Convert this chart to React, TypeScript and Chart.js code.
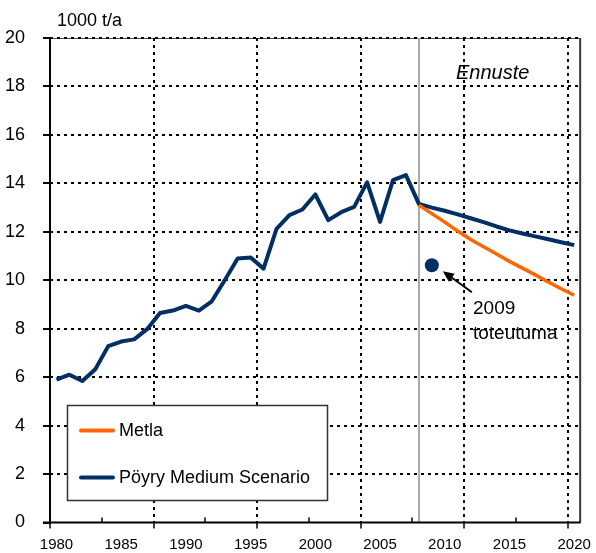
import React, { useEffect, useRef } from 'react';
import { Chart, registerables } from 'chart.js';

Chart.register(...registerables);

// ---- data ----
const years = [
  1980, 1981, 1982, 1983, 1984, 1985, 1986, 1987, 1988, 1989,
  1990, 1991, 1992, 1993, 1994, 1995, 1996, 1997, 1998, 1999,
  2000, 2001, 2002, 2003, 2004, 2005, 2006, 2007, 2008, 2009,
  2010, 2011, 2012, 2013, 2014, 2015, 2016, 2017, 2018, 2019, 2020,
];
const poyryValues = [
  5.9, 6.1, 5.84, 6.33, 7.28, 7.47, 7.56, 7.98, 8.65, 8.75,
  8.94, 8.75, 9.13, 10.0, 10.9, 10.94, 10.48, 12.12, 12.69, 12.92,
  13.54, 12.48, 12.81, 13.03, 14.04, 12.41, 14.13, 14.34, 13.15, 13.0,
  12.87, 12.72, 12.56, 12.4, 12.22, 12.06, 11.93, 11.81, 11.69, 11.57, 11.45,
];
const metlaYears = [2008, 2009, 2010, 2011, 2012, 2013, 2014, 2015, 2016, 2017, 2018, 2019, 2020];
const metlaValues = [13.1, 12.75, 12.4, 12.03, 11.68, 11.38, 11.08, 10.78, 10.5, 10.22, 9.93, 9.65, 9.38];
const actualYears = [2009];
const actualValues = [10.62];
const forecastStartYear = 2008;

const xLabelYears = [1980, 1985, 1990, 1995, 2000, 2005, 2010, 2015, 2020];
const xGridYears = [1987.5, 1995.5, 2003.5, 2011.5, 2019.5];
const xMajorTickYears = [1979.5, 1987.5, 1995.5, 2003.5, 2011.5, 2019.5];
const xMinorTickYears = [1983.5, 1991.5, 1999.5, 2007.5, 2015.5];
const yTickValues = [0, 2, 4, 6, 8, 10, 12, 14, 16, 18, 20];

const seriesNames = ['Metla', 'Pöyry Medium Scenario'];
const unitLabel = '1000 t/a';
const forecastLabel = 'Ennuste';
const actualLabelLines = ['2009', 'toteutuma'];

const NAVY = '#002F63';
const ORANGE = '#FF6600';
const FONT = '"Liberation Sans", Arial, Helvetica, sans-serif';

const decorPlugin = {
  id: 'decor',
  beforeDatasetsDraw(chart: any) {
    const { ctx, chartArea: a, scales } = chart;
    const x = scales.x;
    const y = scales.y;
    ctx.save();
    // top border (thin)
    ctx.strokeStyle = '#555';
    ctx.lineWidth = 1;
    ctx.beginPath();
    ctx.moveTo(a.left, Math.round(a.top) + 0.5);
    ctx.lineTo(a.right, Math.round(a.top) + 0.5);
    ctx.stroke();
    // dotted grid
    ctx.strokeStyle = '#000';
    ctx.lineWidth = 2;
    ctx.setLineDash([3, 4]);
    yTickValues.forEach((v) => {
      if (v === 0) return;
      const py = Math.round(y.getPixelForValue(v));
      ctx.beginPath();
      ctx.moveTo(a.left, py);
      ctx.lineTo(a.right, py);
      ctx.stroke();
    });
    xGridYears.forEach((v) => {
      const px = Math.round(x.getPixelForValue(v));
      ctx.beginPath();
      ctx.moveTo(px, a.top);
      ctx.lineTo(px, a.bottom);
      ctx.stroke();
    });
    ctx.setLineDash([]);
    // forecast separator
    const fx = Math.round(x.getPixelForValue(forecastStartYear));
    ctx.strokeStyle = '#ABABAB';
    ctx.lineWidth = 2;
    ctx.beginPath();
    ctx.moveTo(fx, a.top);
    ctx.lineTo(fx, a.bottom);
    ctx.stroke();
    ctx.restore();
  },
  afterDatasetsDraw(chart: any) {
    const { ctx, chartArea: a, scales } = chart;
    const x = scales.x;
    const y = scales.y;
    ctx.save();
    // right border
    ctx.strokeStyle = '#3A3A3A';
    ctx.lineWidth = 2;
    ctx.beginPath();
    ctx.moveTo(a.right - 0.5, a.top);
    ctx.lineTo(a.right - 0.5, a.bottom);
    ctx.stroke();
    // axes
    ctx.strokeStyle = '#000';
    ctx.lineWidth = 2;
    ctx.beginPath();
    ctx.moveTo(a.left, a.top);
    ctx.lineTo(a.left, a.bottom + 1);
    ctx.stroke();
    ctx.beginPath();
    ctx.moveTo(a.left - 7, a.bottom);
    ctx.lineTo(a.right, a.bottom);
    ctx.stroke();
    // y ticks
    yTickValues.forEach((v) => {
      const py = Math.round(y.getPixelForValue(v));
      ctx.beginPath();
      ctx.moveTo(a.left - 7, py);
      ctx.lineTo(a.left, py);
      ctx.stroke();
    });
    // x ticks
    ctx.lineWidth = 1.5;
    xMajorTickYears.forEach((v) => {
      const px = Math.round(x.getPixelForValue(v));
      ctx.beginPath();
      ctx.moveTo(px, a.bottom);
      ctx.lineTo(px, a.bottom + 6);
      ctx.stroke();
    });
    xMinorTickYears.forEach((v) => {
      const px = Math.round(x.getPixelForValue(v));
      ctx.beginPath();
      ctx.moveTo(px, a.bottom);
      ctx.lineTo(px, a.bottom - 5);
      ctx.stroke();
    });

    // texts
    ctx.fillStyle = '#000';
    ctx.textBaseline = 'alphabetic';
    ctx.textAlign = 'left';
    ctx.font = `18px ${FONT}`;
    ctx.fillText(unitLabel, 57, 26);
    ctx.font = `italic 20px ${FONT}`;
    ctx.fillText(forecastLabel, 456, 79);

    // annotation for 2009
    const ptX = x.getPixelForValue(actualYears[0]);
    const ptY = y.getPixelForValue(actualValues[0]);
    const sx = ptX + 40;
    const sy = ptY + 27;
    const tx = ptX + 11;
    const ty = ptY + 6;
    ctx.strokeStyle = '#000';
    ctx.lineWidth = 2;
    ctx.beginPath();
    ctx.moveTo(sx, sy);
    ctx.lineTo(tx + 5, ty + 3.5);
    ctx.stroke();
    const ang = Math.atan2(ty - sy, tx - sx);
    ctx.beginPath();
    ctx.moveTo(tx, ty);
    ctx.lineTo(tx - 11 * Math.cos(ang) + 5 * Math.sin(ang), ty - 11 * Math.sin(ang) - 5 * Math.cos(ang));
    ctx.lineTo(tx - 11 * Math.cos(ang) - 5 * Math.sin(ang), ty - 11 * Math.sin(ang) + 5 * Math.cos(ang));
    ctx.closePath();
    ctx.fillStyle = '#000';
    ctx.fill();
    ctx.font = `19px ${FONT}`;
    ctx.fillText(actualLabelLines[0], 473, 314);
    ctx.fillText(actualLabelLines[1], 473, 339);

    // legend
    const lx = 67, ly = 405, lw = 260, lh = 95;
    ctx.fillStyle = '#fff';
    ctx.fillRect(lx, ly, lw, lh);
    ctx.strokeStyle = '#333';
    ctx.lineWidth = 1.5;
    ctx.strokeRect(lx + 0.5, ly + 0.5, lw, lh);
    const ds = chart.data.datasets;
    const rows = [
      { color: ds[0].borderColor, text: ds[0].label, yy: 430.5 },
      { color: ds[1].borderColor, text: ds[1].label, yy: 477.5 },
    ];
    rows.forEach((r) => {
      ctx.strokeStyle = r.color;
      ctx.lineWidth = 4;
      ctx.lineCap = 'round';
      ctx.beginPath();
      ctx.moveTo(81, r.yy);
      ctx.lineTo(113, r.yy);
      ctx.stroke();
      ctx.fillStyle = '#000';
      ctx.font = `18px ${FONT}`;
      ctx.textBaseline = 'middle';
      ctx.fillText(r.text, 119, r.yy + 1);
    });
    ctx.restore();
  },
};

export default function App() {
  const ref = useRef<HTMLCanvasElement | null>(null);
  useEffect(() => {
    if (!ref.current) return;
    const chart = new Chart(ref.current, {
      type: 'line',
      data: {
        datasets: [
          {
            label: seriesNames[0],
            data: metlaYears.map((yr, i) => ({ x: yr, y: metlaValues[i] })),
            borderColor: ORANGE,
            backgroundColor: ORANGE,
            borderWidth: 3.5,
            pointRadius: 0,
            tension: 0,
          },
          {
            label: seriesNames[1],
            data: years.map((yr, i) => ({ x: yr, y: poyryValues[i] })),
            borderColor: NAVY,
            backgroundColor: NAVY,
            borderWidth: 4,
            pointRadius: 0,
            tension: 0,
            borderJoinStyle: 'round',
          },
          {
            label: 'toteutuma',
            data: actualYears.map((yr, i) => ({ x: yr, y: actualValues[i] })),
            borderColor: NAVY,
            backgroundColor: NAVY,
            showLine: false,
            pointRadius: 7,
            pointBorderWidth: 0,
          },
        ],
      },
      options: {
        responsive: false,
        animation: false,
        events: [],
        layout: { padding: { top: 38, right: 10, left: 0, bottom: 0 } },
        plugins: { legend: { display: false }, tooltip: { enabled: false } },
        scales: {
          x: {
            type: 'linear',
            min: 1979.5,
            max: 2020.5,
            afterBuildTicks: (s: any) => {
              s.ticks = xLabelYears.map((v) => ({ value: v }));
            },
            afterFit: (s: any) => {
              s.height = 30.5;
            },
            grid: { display: false },
            border: { display: false },
            ticks: {
              autoSkip: false,
              maxRotation: 0,
              padding: 5,
              color: '#000',
              font: { size: 15, family: FONT },
              callback: (v: any) => String(v),
            },
          },
          y: {
            type: 'linear',
            min: 0,
            max: 20,
            afterBuildTicks: (s: any) => {
              s.ticks = yTickValues.map((v) => ({ value: v }));
            },
            afterFit: (s: any) => {
              s.width = 50;
            },
            grid: { display: false },
            border: { display: false },
            ticks: {
              padding: 17,
              color: '#000',
              font: { size: 18, family: FONT },
              callback: (v: any) => String(v),
            },
          },
        },
      },
      plugins: [decorPlugin],
    });
    return () => chart.destroy();
  }, []);
  return (
    <div style={{ position: 'fixed', left: 0, top: 0, width: 596, height: 553, background: '#fff' }}>
      <canvas ref={ref} width={596} height={553} />
    </div>
  );
}
